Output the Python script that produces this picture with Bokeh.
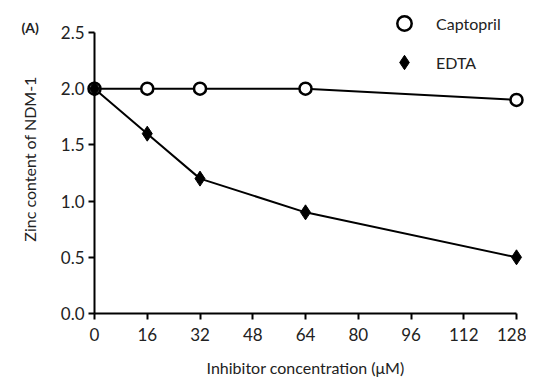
from bokeh.plotting import figure
from bokeh.models import (FixedTicker, Range1d, Legend, LegendItem,
                          NumeralTickFormatter, ColumnDataSource)
from bokeh.core.properties import value
from bokeh.embed import file_html
from bokeh.resources import INLINE

conc = [0, 16, 32, 64, 128]
captopril = [2.0, 2.0, 2.0, 2.0, 1.9]
edta = [2.0, 1.6, 1.2, 0.9, 0.5]
x_ticks = [0, 16, 32, 48, 64, 80, 96, 112, 128]
y_ticks = [0.0, 0.5, 1.0, 1.5, 2.0, 2.5]
panel_label = ["(A)"]

FONT = "Lato"
TXT = "#222222"

# frame: axis 0..2.5 spans 281 px; extra headroom above for legend
TOP = 4
y_end = 2.5 * (313 - TOP) / 281

p = figure(width=526, height=384, output_backend="svg", toolbar_location=None,
           x_range=Range1d(0, 128), y_range=Range1d(0, y_end),
           min_border_left=94, min_border_top=TOP, min_border_right=10,
           min_border_bottom=71)
p.outline_line_color = None
p.xgrid.visible = False
p.ygrid.visible = False

for ax in (p.xaxis[0], p.yaxis[0]):
    ax.axis_line_width = 2
    ax.major_tick_line_width = 2
    ax.major_tick_out = 6
    ax.major_tick_in = 0
    ax.minor_tick_line_color = None
    ax.major_label_text_font = FONT
    ax.major_label_text_font_size = "17px"
    ax.major_label_text_color = TXT
    ax.axis_label_text_font = FONT
    ax.axis_label_text_font_size = "16px"
    ax.axis_label_text_font_style = "normal"
    ax.axis_label_text_color = TXT

p.xaxis.ticker = FixedTicker(ticks=x_ticks)
p.yaxis.ticker = FixedTicker(ticks=y_ticks)
p.yaxis.bounds = (0, 2.5)
p.yaxis.formatter = NumeralTickFormatter(format="0.0")
p.xaxis.axis_label = "Inhibitor concentration (\u03bcM)"
p.yaxis.axis_label = "Zinc content of NDM-1"
p.xaxis.major_label_standoff = 8
p.yaxis.major_label_standoff = 4
p.xaxis.axis_label_standoff = 14
p.yaxis.axis_label_standoff = 19

src_c = ColumnDataSource(dict(x=conc, y=captopril))
src_e = ColumnDataSource(dict(x=conc, y=edta))

p.line("x", "y", source=src_c, line_color="black", line_width=2, level="overlay")
p.line("x", "y", source=src_e, line_color="black", line_width=2, level="overlay")
rc = p.scatter("x", "y", source=src_c, marker="circle", size=12,
               fill_color="white", line_color="black", line_width=2.5, level="overlay")
re = p.scatter("x", "y", source=src_e, marker="diamond", size=15,
               fill_color="black", line_color="black", level="overlay")

legend = Legend(items=[LegendItem(label="Captopril", renderers=[rc]),
                       LegendItem(label="EDTA", renderers=[re])],
                location=(292, 233), orientation="vertical",
                border_line_color=None, background_fill_alpha=0,
                padding=0, margin=0, spacing=3,
                glyph_width=36, glyph_height=36, label_height=36,
                label_standoff=14, label_text_font=FONT,
                label_text_font_size="16px", label_text_color=TXT)
p.add_layout(legend, "center")

p.text(x=[-19.5], y=[2.545], text=panel_label, text_font=value(FONT),
       text_font_size="14px", text_font_style="bold", text_align="center",
       text_baseline="middle", text_color=TXT, level="overlay")

open("out.html", "w").write(file_html(p, INLINE))
